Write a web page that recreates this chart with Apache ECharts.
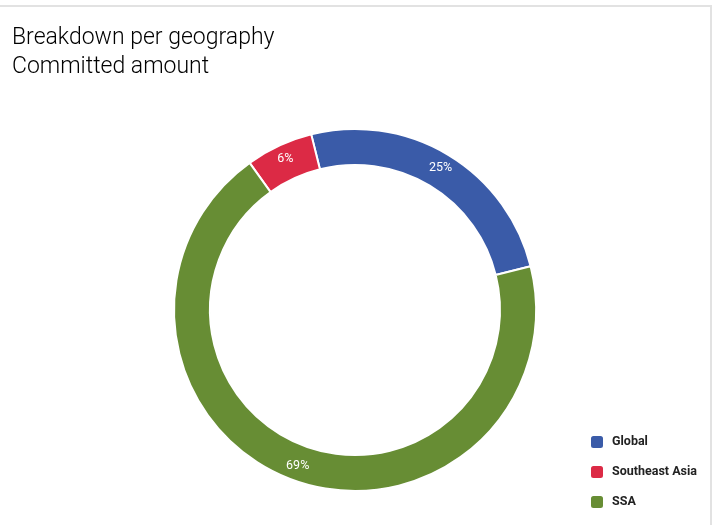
<!DOCTYPE html>
<html>
<head>
<meta charset="utf-8">
<script src="https://cdn.jsdelivr.net/npm/echarts@6/dist/echarts.min.js"></script>
<style>
html,body{margin:0;padding:0;background:#fff;}
#chart{position:absolute;left:0;top:0;width:717px;height:525px;}
#frame{position:absolute;left:-2px;top:5px;width:712px;height:530px;border-top:2px solid #e2e2e2;border-right:2px solid #e2e2e2;pointer-events:none;}
</style>
</head>
<body>
<div id="chart"></div>
<div id="frame"></div>
<script>
const titleLines = ["Breakdown per geography", "Committed amount"];
const categories = ["Global", "Southeast Asia", "SSA"];
const values = [25, 6, 69];
const colors = ["#3a5ba8", "#dc2a45", "#678d34"];

const chart = echarts.init(document.getElementById('chart'), null, {renderer: 'canvas'});
chart.setOption({
  animation: false,
  title: {
    text: titleLines.join('\n'),
    left: 7,
    top: 19,
    textStyle: {
      fontFamily: 'Roboto',
      fontWeight: 300,
      fontSize: 23,
      lineHeight: 29,
      color: '#000'
    }
  },
  legend: {
    orient: 'vertical',
    left: 589,
    top: 434,
    padding: 0,
    itemWidth: 14,
    itemHeight: 14,
    itemGap: 14,
    icon: 'roundRect',
    data: categories,
    textStyle: {
      fontFamily: 'Roboto',
      fontWeight: 'bold',
      fontSize: 12.5,
      color: '#222',
      padding: [0, 0, 0, 3]
    }
  },
  color: colors,
  series: [{
    type: 'pie',
    center: [355, 310],
    radius: [145, 181],
    startAngle: 14,
    clockwise: false,
    avoidLabelOverlap: false,
    itemStyle: {borderColor: '#fff', borderWidth: 2},
    label: {
      show: true,
      position: 'inside',
      formatter: '{d}%',
      color: '#fff',
      fontFamily: 'Roboto',
      fontSize: 12.5,
      fontWeight: 'normal'
    },
    labelLine: {show: false},
    emphasis: {disabled: true},
    data: categories.map((c, i) => ({name: c, value: values[i]}))
  }]
});
</script>
</body>
</html>
